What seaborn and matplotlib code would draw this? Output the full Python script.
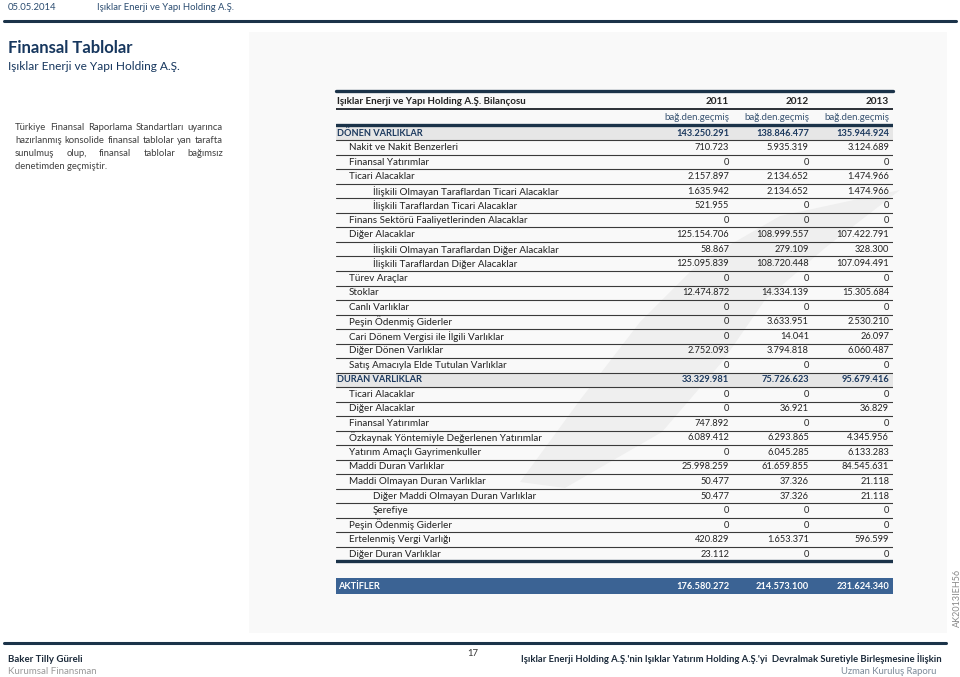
import matplotlib
matplotlib.use("Agg")
import matplotlib.pyplot as plt
from matplotlib.patches import Rectangle, Polygon
import seaborn as sns

# ---- data ----
years = ["2011", "2012", "2013"]
audit = ["bağ.den.geçmiş", "bağ.den.geçmiş", "bağ.den.geçmiş"]

labels = [
    "DÖNEN VARLIKLAR", "Nakit ve Nakit Benzerleri", "Finansal Yatırımlar",
    "Ticari Alacaklar", "İlişkili Olmayan Taraflardan Ticari Alacaklar",
    "İlişkili Taraflardan Ticari Alacaklar", "Finans Sektörü Faaliyetlerinden Alacaklar",
    "Diğer Alacaklar", "İlişkili Olmayan Taraflardan Diğer Alacaklar",
    "İlişkili Taraflardan Diğer Alacaklar", "Türev Araçlar", "Stoklar",
    "Canlı Varlıklar", "Peşin Ödenmiş Giderler",
    "Cari Dönem Vergisi ile İlgili Varlıklar", "Diğer Dönen Varlıklar",
    "Satış Amacıyla Elde Tutulan Varlıklar", "DURAN VARLIKLAR",
    "Ticari Alacaklar", "Diğer Alacaklar", "Finansal Yatırımlar",
    "Özkaynak Yöntemiyle Değerlenen Yatırımlar", "Yatırım Amaçlı Gayrimenkuller",
    "Maddi Duran Varlıklar", "Maddi Olmayan Duran Varlıklar",
    "Diğer Maddi Olmayan Duran Varlıklar", "Şerefiye", "Peşin Ödenmiş Giderler",
    "Ertelenmiş Vergi Varlığı", "Diğer Duran Varlıklar",
]
levels = [0, 1, 1, 1, 2, 2, 1, 1, 2, 2, 1, 1, 1, 1, 1, 1, 1,
          0, 1, 1, 1, 1, 1, 1, 1, 2, 2, 1, 1, 1]
v2011 = [143250291, 710723, 0, 2157897, 1635942, 521955, 0, 125154706, 58867,
         125095839, 0, 12474872, 0, 0, 0, 2752093, 0, 33329981, 0, 0, 747892,
         6089412, 0, 25998259, 50477, 50477, 0, 0, 420829, 23112]
v2012 = [138846477, 5935319, 0, 2134652, 2134652, 0, 0, 108999557, 279109,
         108720448, 0, 14334139, 0, 3633951, 14041, 3794818, 0, 75726623, 0,
         36921, 0, 6293865, 6045285, 61659855, 37326, 37326, 0, 0, 1653371, 0]
v2013 = [135944924, 3124689, 0, 1474966, 1474966, 0, 0, 107422791, 328300,
         107094491, 0, 15305684, 0, 2530210, 26097, 6060487, 0, 95679416, 0,
         36829, 0, 4345956, 6133283, 84545631, 21118, 21118, 0, 0, 596599, 0]
total_label = "AKTİFLER"
totals = [176580272, 214573100, 231624340]

paragraph = ["Türkiye Finansal Raporlama Standartları uyarınca",
             "hazırlanmış konsolide finansal tablolar yan tarafta",
             "sunulmuş olup, finansal tablolar bağımsız",
             "denetimden geçmiştir."]


def fmt(v):
    return f"{v:,}".replace(",", ".")


sns.set_theme(style="white")
plt.rcParams['font.family'] = ['Lato', 'DejaVu Sans']

NAVY = "#1b3349"
DARK = "#222222"

fig = plt.figure(figsize=(9.6, 6.77), dpi=100)
W, H = 960, 677


def fx(x):
    return x / W


def fy(y):
    return 1 - y / H


# light panel behind the table, with a faint swoosh watermark
fig.patches.append(Rectangle((fx(249), fy(633)), fx(947) - fx(249), fy(32) - fy(633),
                             transform=fig.transFigure, fc="#f9f9f9", ec="none", zorder=-5))
swoosh = [(520, 482), (580, 400), (640, 322), (700, 262), (780, 216), (900, 190),
          (825, 248), (765, 300), (722, 362), (662, 432), (565, 488)]
fig.patches.append(Polygon([(fx(x), fy(y)) for x, y in swoosh], closed=True,
                           transform=fig.transFigure, fc="#efefef", ec="none", zorder=-4))

# top bar
fig.text(fx(8), fy(7), "05.05.2014", fontsize=6.8, color="#2b4c70", va="center")
fig.text(fx(97), fy(7), "Işıklar Enerji ve Yapı Holding A.Ş.", fontsize=6.8,
         color="#2b4c70", va="center")
fig.add_artist(plt.Line2D([fx(4), fx(956)], [fy(21), fy(21)], color=NAVY, lw=2.2))

fig.text(fx(8), fy(48), "Finansal Tablolar", fontsize=12, fontweight="bold",
         color="#17375e", va="center")
fig.text(fx(8), fy(67), "Işıklar Enerji ve Yapı Holding A.Ş.", fontsize=8.6,
         color="#17375e", va="center")

# justified paragraph
renderer = fig.canvas.get_renderer()
par_left, par_right = 15, 223
for i, line in enumerate(paragraph):
    y = fy(128 + i * 12.7)
    words = line.split()
    if i == len(paragraph) - 1:
        fig.text(fx(par_left), y, line, fontsize=6.8, color="#404040", va="center")
        continue
    texts = [fig.text(0, y, w, fontsize=6.8, color="#404040", va="center") for w in words]
    widths = [t.get_window_extent(renderer=renderer).width for t in texts]
    gap = (par_right - par_left - sum(widths)) / (len(words) - 1)
    x = par_left
    for t, w in zip(texts, widths):
        t.set_x(fx(x))
        x += w + gap

# ---- table ----
ax = fig.add_axes([fx(336), fy(594), fx(893) - fx(336), fy(91) - fy(594)])
ax.set_zorder(3)
ax.set_xlim(0, 1)
ax.set_ylim(31.75, -2.9)
ax.axis("off")

col_x = [0.706, 0.849, 0.993]
indent = [0.002, 0.023, 0.066]
n = len(labels)
LBL, NUM = 7.1, 6.7

# header
ax.axhline(-2.9, color=NAVY, lw=2.4, clip_on=False)
ax.text(indent[0], -2.2, "Işıklar Enerji ve Yapı Holding A.Ş. Bilançosu", fontsize=7.0,
        fontweight="bold", color=DARK, va="center")
for cx, yr, au in zip(col_x, years, audit):
    ax.text(cx, -2.2, yr, fontsize=7.2, fontweight="bold", color=DARK, ha="right", va="center")
    ax.text(cx, -1.08, au, fontsize=7.0, color="#3a5573", ha="right", va="center")
ax.axhline(-1.66, color="#2a2f36", lw=1.4)
ax.axhline(-0.55, color=NAVY, lw=2.4)

for i in range(n):
    section = levels[i] == 0
    if section:
        ax.axhspan(i - 0.5, i + 0.5, color="#e6e6e6", lw=0, zorder=0)
    color = "#1d3a5f" if section else DARK
    weight = "bold" if section else "normal"
    ax.text(indent[levels[i]], i, labels[i], fontsize=6.7 if section else LBL, color=color,
            fontweight=weight, va="center")
    for cx, vals in zip(col_x, [v2011, v2012, v2013]):
        ax.text(cx, i, fmt(vals[i]), fontsize=NUM, color=color, fontweight=weight,
                ha="right", va="center")
    if i < n - 1:
        ax.axhline(i + 0.5, color="#3a3a3a", lw=0.8)
ax.axhline(n - 0.5, color=NAVY, lw=2.4)

# total bar
ax.axhspan(30.65, 31.75, color="#3b6394", lw=0)
ax.text(indent[0] + 0.002, 31.2, total_label, fontsize=6.7, fontweight="bold",
        color="white", va="center")
for cx, v in zip(col_x, totals):
    ax.text(cx, 31.2, fmt(v), fontsize=NUM, fontweight="bold", color="white",
            ha="right", va="center")

# side code
fig.text(fx(957), fy(598), "AK2013IEH56", rotation=90, fontsize=6.5, color="#8a8a8a",
         ha="center", va="center")

# footer
fig.add_artist(plt.Line2D([fx(4), fx(946)], [fy(643), fy(643)], color=NAVY, lw=2.2))
fig.text(fx(8), fy(659), "Baker Tilly Güreli", fontsize=6.9, fontweight="bold",
         color="#1b2a3a", va="center")
fig.text(fx(8), fy(671), "Kurumsal Finansman", fontsize=7.0, color="#9a9a9a", va="center")
fig.text(fx(473), fy(654), "17", fontsize=6.8, color="#333333", ha="center", va="center")
fig.text(fx(942), fy(659),
         "Işıklar Enerji Holding A.Ş.'nin Işıklar Yatırım Holding A.Ş.'yi  Devralmak Suretiyle Birleşmesine İlişkin",
         fontsize=6.85, fontweight="bold", color="#1b2a3a", ha="right", va="center")
fig.text(fx(936), fy(671), "Uzman Kuruluş Raporu", fontsize=6.8, color="#7c8a99",
         ha="right", va="center")

fig.savefig("out.png", dpi=100, facecolor="white")
